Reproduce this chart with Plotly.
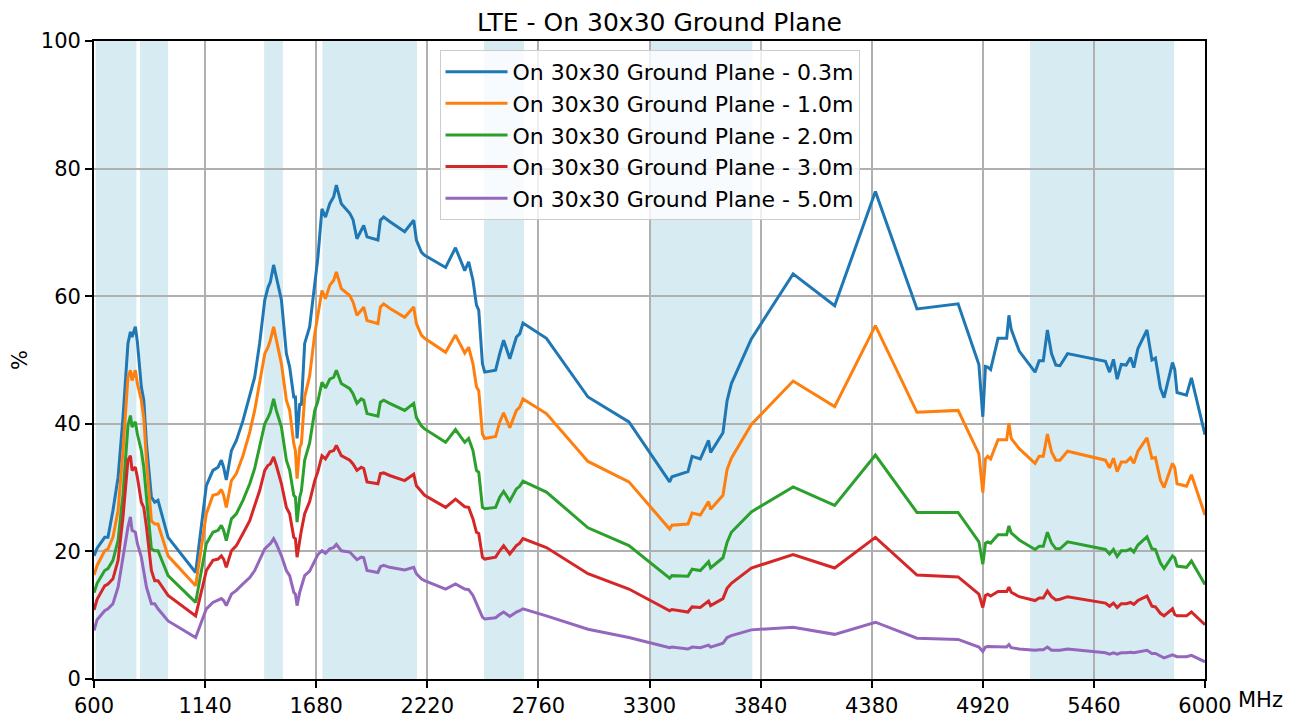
import plotly.graph_objects as go

# Frequency points (MHz) shared by all five measurement heights
freq_mhz = [
    600, 615, 652, 668, 692, 717, 741, 765, 777, 785, 801, 811, 830, 842, 855, 879, 895, 911, 960, 1094,
    1146, 1178, 1203, 1219, 1230, 1243, 1268, 1292, 1324, 1357, 1381, 1405, 1430, 1446, 1457, 1473,
    1486, 1511, 1535, 1551, 1571, 1579, 1587, 1600, 1608, 1624, 1648, 1673, 1688,
    1708, 1725, 1746, 1765, 1778, 1802, 1843, 1859, 1878, 1899, 1911, 1927, 1980, 1992, 2008, 2037,
    2110, 2154, 2167, 2191, 2207, 2309, 2357, 2402, 2421, 2442, 2459,
    2470, 2488, 2499, 2552, 2572, 2591, 2621, 2653, 2669, 2685, 2799, 3001, 3200,
    3398, 3409, 3487, 3507, 3547, 3587, 3597, 3657, 3677, 3698, 3795, 3998, 4200, 4398,
    4600, 4800, 4901, 4920, 4933, 4944, 4958, 4994, 5036, 5047, 5058, 5097, 5174, 5194, 5214, 5234,
    5254, 5275, 5295, 5332, 5516, 5536, 5555, 5573, 5593, 5617, 5638, 5654, 5674, 5718, 5742, 5759,
    5783, 5801, 5842, 5853, 5864, 5910, 5934, 6000,
]

eff_03m = [
    19.3, 20.5, 22.2, 22.2, 26.4, 31.6, 41.0, 52.6, 54.4, 53.6, 55.2, 52.8, 45.8, 43.7, 36.9, 28.5, 27.7, 28.0, 22.2, 16.7,
    30.3, 32.7, 33.2, 34.3, 33.2, 31.2, 35.8, 37.4, 40.5, 44.7, 47.3, 52.6, 59.4, 61.4, 62.2, 64.9,
    63.1, 59.4, 51.0, 48.9, 44.2, 44.2, 37.7, 43.2, 42.9, 52.6, 55.2, 62.0, 66.0,
    73.7, 72.4, 74.5, 75.6, 77.4, 74.5, 73.0, 72.0, 69.0, 70.2, 71.1, 69.3, 68.8, 71.9, 72.4, 71.7,
    70.1, 71.9, 68.8, 66.9, 66.4, 64.5, 67.6, 64.0, 65.4, 62.5, 58.6,
    57.8, 49.4, 48.1, 48.4, 51.0, 53.1, 50.2, 53.6, 54.1, 55.8, 53.4, 44.2, 40.3,
    30.9, 31.7, 32.5, 34.9, 34.5, 37.4, 35.5, 38.6, 43.6, 46.3, 53.3, 63.5, 58.5, 76.4,
    58.0, 58.8, 49.3, 41.1, 49.0, 48.9, 48.5, 53.4, 53.4, 57.0, 54.8, 51.4, 48.1, 49.9, 49.9, 54.7,
    51.0, 49.2, 49.1, 51.0, 49.8, 48.1, 50.1, 47.0, 49.3, 49.2, 50.4, 48.8, 51.8, 54.7, 50.0, 50.3,
    45.6, 44.1, 49.6, 48.5, 44.9, 44.5, 47.2, 38.3,
]

eff_10m = [
    16.3, 17.8, 20.1, 20.4, 22.2, 26.4, 35.8, 47.3, 48.4, 46.8, 48.4, 46.3, 43.7, 41.0, 34.3, 24.8, 24.3, 24.3, 19.3, 14.6,
    25.9, 28.8, 29.0, 29.7, 28.8, 26.9, 31.1, 32.2, 35.0, 38.7, 42.1, 46.3, 51.0, 52.0, 53.1, 55.2,
    53.1, 49.4, 43.7, 42.1, 36.9, 35.8, 31.4, 36.3, 36.9, 44.2, 47.5, 54.1, 57.0,
    60.9, 59.6, 61.7, 62.5, 63.8, 61.2, 60.1, 59.1, 57.0, 57.8, 58.3, 56.2, 55.7, 58.3, 58.8, 58.1,
    56.7, 58.3, 55.7, 53.9, 53.4, 51.2, 53.9, 51.1, 52.0, 49.4, 45.8,
    45.2, 38.4, 37.7, 38.0, 40.3, 41.7, 39.4, 42.1, 42.6, 43.9, 41.6, 34.1, 30.9,
    23.5, 24.1, 24.3, 26.0, 25.7, 27.8, 26.6, 28.8, 32.8, 34.6, 39.9, 46.7, 42.7, 55.4,
    41.8, 42.1, 35.3, 29.2, 34.5, 34.9, 34.5, 37.5, 37.5, 40.1, 37.7, 36.1, 33.8, 34.9, 34.9, 38.4,
    35.6, 34.3, 34.3, 35.7, 34.3, 33.1, 34.6, 32.5, 34.0, 34.0, 34.7, 33.8, 35.7, 37.8, 34.6, 34.7,
    31.2, 30.0, 33.8, 33.1, 30.6, 30.2, 32.0, 25.7,
]

eff_20m = [
    13.5, 15.0, 17.0, 17.3, 18.6, 21.7, 29.0, 39.7, 41.3, 39.5, 40.3, 38.4, 35.8, 33.2, 28.5, 20.4, 20.1, 20.1, 16.2, 12.0,
    21.2, 23.0, 23.3, 24.1, 23.3, 21.7, 25.1, 25.9, 28.0, 30.6, 33.0, 36.3, 40.0, 41.0, 41.8, 43.9,
    42.1, 39.5, 34.3, 32.7, 28.8, 28.5, 24.6, 28.5, 29.5, 34.3, 37.0, 42.1, 43.5,
    46.5, 45.6, 47.0, 47.3, 48.4, 46.3, 45.5, 44.7, 43.2, 43.9, 43.7, 41.6, 41.2, 43.4, 43.7, 43.2,
    42.1, 43.2, 41.0, 39.7, 39.2, 37.1, 39.1, 37.1, 37.7, 35.8, 32.7,
    32.4, 26.9, 26.7, 26.9, 28.5, 29.4, 27.9, 29.8, 30.2, 31.0, 29.3, 23.7, 20.9,
    15.8, 16.2, 16.1, 17.2, 17.0, 18.4, 17.4, 19.0, 21.4, 23.0, 26.2, 30.1, 27.2, 35.1,
    26.1, 26.1, 21.5, 18.0, 21.3, 21.5, 21.3, 22.6, 22.6, 24.0, 22.9, 21.8, 20.3, 20.8, 20.8, 23.0,
    21.3, 20.4, 20.4, 21.5, 20.3, 19.6, 20.3, 19.2, 20.1, 20.1, 20.4, 19.9, 21.0, 22.3, 20.4, 20.3,
    18.2, 17.3, 19.3, 19.0, 17.7, 17.5, 18.5, 14.8,
]

eff_30m = [
    10.8, 12.5, 14.6, 14.9, 15.7, 18.6, 25.4, 34.3, 35.0, 32.7, 33.2, 31.6, 27.7, 26.9, 23.8, 17.0, 15.4, 15.4, 13.1, 9.9,
    17.0, 18.6, 18.8, 19.3, 18.8, 17.5, 20.1, 20.9, 22.8, 24.8, 27.2, 29.5, 32.7, 33.5, 33.7, 34.8,
    33.5, 30.6, 26.9, 25.9, 22.2, 22.0, 19.1, 22.2, 23.3, 25.9, 27.8, 31.1, 32.5,
    35.0, 34.5, 35.6, 35.8, 36.6, 35.0, 34.3, 33.7, 32.7, 33.2, 33.0, 30.9, 30.6, 32.2, 32.3, 31.9,
    31.1, 32.1, 30.3, 29.3, 28.8, 26.9, 28.2, 27.0, 26.9, 25.1, 23.0,
    22.8, 19.1, 18.8, 19.1, 20.1, 20.9, 19.6, 20.9, 21.3, 22.0, 20.6, 16.5, 14.1,
    10.7, 10.9, 10.5, 11.3, 11.2, 12.2, 11.5, 12.6, 14.2, 15.0, 17.4, 19.5, 17.4, 22.2,
    16.3, 16.0, 13.3, 11.2, 13.1, 13.3, 13.0, 13.7, 13.7, 14.4, 13.6, 12.9, 12.3, 12.7, 12.7, 13.8,
    12.9, 12.4, 12.5, 12.9, 11.9, 11.4, 11.9, 11.2, 11.8, 11.8, 12.0, 11.7, 12.3, 13.0, 11.4, 11.3,
    10.3, 9.9, 11.0, 10.1, 9.9, 9.9, 10.5, 8.5,
]

eff_50m = [
    7.6, 9.3, 10.7, 11.0, 11.8, 14.4, 19.1, 23.8, 25.4, 23.3, 23.0, 21.2, 19.1, 16.5, 14.4, 11.8, 11.8, 11.0, 9.1, 6.5,
    11.0, 12.0, 12.3, 12.6, 12.3, 11.5, 13.3, 13.9, 14.9, 15.9, 17.0, 18.8, 20.4, 20.9, 21.2, 22.0,
    21.2, 19.3, 17.0, 16.2, 13.6, 13.3, 11.5, 13.6, 14.4, 16.2, 16.9, 18.6, 19.5,
    20.1, 19.7, 20.4, 20.6, 21.1, 20.1, 19.9, 19.3, 18.7, 19.1, 19.0, 17.0, 16.7, 17.6, 17.8, 17.5,
    17.1, 17.5, 16.5, 15.7, 15.4, 14.1, 14.9, 14.1, 14.0, 13.1, 11.8,
    11.2, 9.7, 9.4, 9.6, 10.1, 10.5, 9.8, 10.5, 10.7, 11.0, 9.9, 7.8, 6.5,
    4.9, 5.0, 4.7, 5.0, 4.9, 5.3, 5.0, 5.6, 6.5, 6.8, 7.7, 8.1, 7.0, 8.9,
    6.4, 6.2, 5.0, 4.3, 5.0, 5.1, 5.1, 5.1, 5.0, 5.4, 4.9, 4.7, 4.5, 4.6, 4.6, 5.0,
    4.5, 4.5, 4.5, 4.7, 4.1, 3.9, 4.1, 3.9, 4.1, 4.1, 4.2, 4.1, 4.2, 4.5, 4.0, 4.0,
    3.6, 3.3, 3.8, 3.7, 3.5, 3.5, 3.7, 2.7,
]

series_names = [
    "On 30x30 Ground Plane - 0.3m",
    "On 30x30 Ground Plane - 1.0m",
    "On 30x30 Ground Plane - 2.0m",
    "On 30x30 Ground Plane - 3.0m",
    "On 30x30 Ground Plane - 5.0m",
]
series_values = [eff_03m, eff_10m, eff_20m, eff_30m, eff_50m]
series_colors = ["#1f77b4", "#ff7f0e", "#2ca02c", "#d62728", "#9467bd"]

# LTE band ranges (MHz) shaded in the background
band_start = [608, 824, 1427, 1710, 2496, 3300, 5150]
band_end = [806, 960, 1518, 2170, 2690, 3800, 5850]

x_ticks = [600, 1140, 1680, 2220, 2760, 3300, 3840, 4380, 4920, 5460, 6000]

for vals in series_values:
    assert len(vals) == len(freq_mhz), len(vals)

fig = go.Figure()

for name, vals, color in zip(series_names, series_values, series_colors):
    fig.add_trace(go.Scatter(
        x=freq_mhz, y=vals, mode="lines", name=name,
        line=dict(color=color, width=3),
    ))

for x0, x1 in zip(band_start, band_end):
    fig.add_shape(
        type="rect", xref="x", yref="paper", x0=x0, x1=x1, y0=0, y1=1,
        fillcolor="lightblue", opacity=0.5, line_width=0, layer="below",
    )

axis_common = dict(
    showline=True, linecolor="black", linewidth=1.7, mirror=True,
    showgrid=True, gridcolor="#b0b0b0", gridwidth=1.5,
    ticks="outside", ticklen=7, tickwidth=1.5, tickcolor="black",
    tickfont=dict(size=21, color="black"), zeroline=False, automargin=False,
)

fig.update_xaxes(range=[600, 6000], tickvals=x_ticks, **axis_common)
fig.update_yaxes(range=[0, 100], dtick=20,
                 title=dict(text="%", font=dict(size=21, color="black"), standoff=14),
                 **axis_common)

fig.add_annotation(
    text="MHz", xref="paper", yref="paper", x=1, y=0,
    xanchor="left", yanchor="top", xshift=31, yshift=-7,
    showarrow=False, font=dict(size=21, color="black"),
)

# the page body adds an 8px offset, so margins are shifted to match
fig.update_layout(
    width=1303, height=716,
    margin=dict(l=86, r=106, t=33, b=45),
    paper_bgcolor="white", plot_bgcolor="white",
    font=dict(family="DejaVu Sans", color="black"),
    title=dict(text="LTE - On 30x30 Ground Plane", x=0.5, xanchor="center",
               y=0.993, yanchor="top", font=dict(size=25, color="black")),
    legend=dict(
        x=0.311, y=0.986, xanchor="left", yanchor="top",
        bgcolor="rgba(255,255,255,0.8)", bordercolor="#cccccc", borderwidth=1,
        font=dict(size=22, color="black"), itemwidth=62,
    ),
    showlegend=True,
)

fig.write_html("out.html")
